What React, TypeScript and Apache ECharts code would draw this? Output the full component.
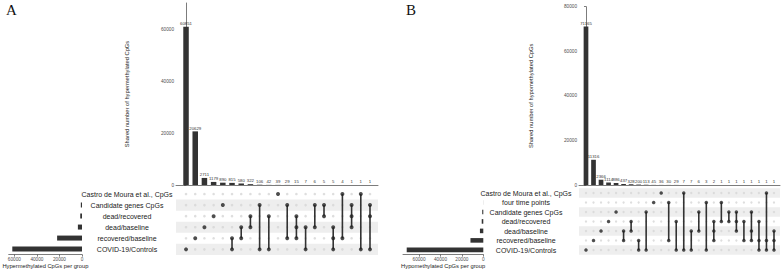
import React, { useEffect, useRef } from 'react';
import * as echarts from 'echarts';

// ---------- Data (panel A: hypermethylated) ----------
const setsA = [
  'Castro de Moura et al., CpGs',
  'Candidate genes CpGs',
  'dead/recovered',
  'dead/baseline',
  'recovered/baseline',
  'COVID-19/Controls',
];
const countsA = [60851, 20629, 2711, 1179, 890, 815, 580, 322, 106, 42, 39, 29, 15, 7, 6, 5, 5, 4, 1, 1, 1];
const membersA = [
  [5], [4], [3], [2], [1], [4, 5], [3, 4], [2, 3], [1, 5], [2, 5], [0],
  [1, 4], [2, 3, 4], [3, 5], [1, 3], [1, 2], [3, 4, 5], [0, 4], [1, 2, 3], [0, 5], [1, 2, 5],
];
const upperTicksA = [0, 20000, 40000, 60000];
const sizeTicksA = [0, 20000, 40000, 60000];

// ---------- Data (panel B: hypomethylated) ----------
const setsB = [
  'Castro de Moura et al., CpGs',
  'four time points',
  'Candidate genes CpGs',
  'dead/recovered',
  'dead/baseline',
  'recovered/baseline',
  'COVID-19/Controls',
];
const countsB = [71165, 11316, 2366, 1114, 886, 437, 328, 200, 113, 45, 36, 30, 29, 7, 7, 6, 3, 2, 1, 1, 1, 1, 1, 1, 1, 1];
const membersB = [
  [6], [5], [4], [3], [2], [4, 5], [3, 4], [5, 6], [2, 6], [1], [0], [1, 5], [3, 6],
  [0, 6], [4, 6], [2, 4], [1, 6], [3, 4, 5], [1, 3], [2, 3], [2, 3, 4], [3, 5], [2, 4, 5],
  [3, 5, 6], [0, 5, 6], [4, 5, 6],
];
const upperTicksB = [0, 20000, 40000, 60000, 80000];
const sizeTicksB = [0, 20000, 40000, 60000];

const FONT = '"Liberation Sans", Arial, Helvetica, sans-serif';
const DARK = '#333333';
const AXIS = '#444444';

type Panel = {
  sets: string[];
  counts: number[];
  members: number[][];
  upperTicks: number[];
  sizeTicks: number[];
  upperMax: number;
  sizeMax: number;
  upperTitle: string;
  sizeTitle: string;
  axisX: number;
  plotW: number;
  upperTop: number;
  matTop: number;
  matH: number;
  sizeLeft: number;
  sizeW: number;
  xMin: number;
  xMax: number;
  barW: number;
  setBarW: number;
  dot: number;
  greyDot: number;
  labelMargin: number;
  yNameGap: number;
};

const panels: Panel[] = [
  {
    sets: setsA, counts: countsA, members: membersA,
    upperTicks: upperTicksA, sizeTicks: sizeTicksA,
    upperMax: 70000, sizeMax: 65000,
    upperTitle: 'Shared number of hypermethylated CpGs',
    sizeTitle: 'Hypermethylated CpGs per group',
    axisX: 176, plotW: 202, upperTop: 3, matTop: 188.5, matH: 66.4,
    sizeLeft: 3, sizeW: 79, xMin: -1.09, xMax: 20.87,
    barW: 5.5, setBarW: 5, dot: 4, greyDot: 2.6, labelMargin: 49, yNameGap: 46,
  },
  {
    sets: setsB, counts: countsB, members: membersB,
    upperTicks: upperTicksB, sizeTicks: sizeTicksB,
    upperMax: 80000, sizeMax: 75000,
    upperTitle: 'Shared number of hypomethylated CpGs',
    sizeTitle: 'Hypomethylated CpGs per group',
    axisX: 579, plotW: 201, upperTop: 6.7, matTop: 188.25, matH: 66.5,
    sizeLeft: 403, sizeW: 80.3, xMin: -0.93, xMax: 25.8,
    barW: 4.7, setBarW: 4.6, dot: 3.5, greyDot: 2.3, labelMargin: 53, yNameGap: 45,
  },
];

const BASE_Y = 185;
const plain = (v: number) => String(v);

function buildOption() {
  const grid: any[] = [];
  const xAxis: any[] = [];
  const yAxis: any[] = [];
  const series: any[] = [];

  panels.forEach((p, pi) => {
    const g0 = pi * 3;
    const n = p.sets.length;
    const axisRows = [...p.sets].reverse();
    const rowOf = (s: number) => n - 1 - s;
    const sizes = p.sets.map((_, s) =>
      p.counts.reduce((acc, c, i) => (p.members[i].includes(s) ? acc + c : acc), 0)
    );

    grid.push(
      { left: p.axisX, top: p.upperTop, width: p.plotW, height: BASE_Y - p.upperTop },
      { left: p.axisX, top: p.matTop, width: p.plotW, height: p.matH },
      { left: p.sizeLeft, top: p.matTop, width: p.sizeW, height: p.matH }
    );

    // upper intersection bars
    xAxis.push({
      gridIndex: g0, type: 'value', min: p.xMin, max: p.xMax,
      axisLine: { show: true, onZero: false, lineStyle: { color: AXIS, width: 0.7 } },
      axisTick: { show: false }, axisLabel: { show: false }, splitLine: { show: false },
    });
    yAxis.push({
      gridIndex: g0, type: 'value', min: 0, max: p.upperMax,
      axisLine: { show: true, lineStyle: { color: AXIS, width: 0.7 } },
      axisTick: { show: true, length: 2, lineStyle: { color: AXIS, width: 0.7 }, customValues: p.upperTicks },
      axisLabel: { fontSize: 4.7, color: '#4d4d4d', margin: 2, fontFamily: FONT, customValues: p.upperTicks, formatter: plain },
      splitLine: { show: false },
      name: p.upperTitle, nameLocation: 'middle', nameGap: p.yNameGap,
      nameTextStyle: { fontSize: 5.75, color: '#222', fontFamily: FONT },
    });

    // matrix
    xAxis.push({ gridIndex: g0 + 1, type: 'value', min: p.xMin, max: p.xMax, show: false });
    yAxis.push({
      gridIndex: g0 + 1, type: 'category', data: axisRows,
      axisLine: { show: false }, axisTick: { show: false },
      axisLabel: { fontSize: 7, color: '#222', fontFamily: FONT, align: 'center', margin: p.labelMargin },
      splitLine: { show: false },
      splitArea: { show: true, areaStyle: { color: ['#eeeeee', 'rgba(255,255,255,0)'] } },
    });

    // set sizes
    xAxis.push({
      gridIndex: g0 + 2, type: 'value', inverse: true, min: 0, max: p.sizeMax,
      axisLine: { show: true, onZero: false, lineStyle: { color: AXIS, width: 0.7 } },
      axisTick: { show: true, length: 2, lineStyle: { color: AXIS, width: 0.7 }, customValues: p.sizeTicks },
      axisLabel: { fontSize: 4.7, color: '#4d4d4d', margin: 2.5, fontFamily: FONT, customValues: p.sizeTicks, formatter: plain },
      splitLine: { show: false },
      name: p.sizeTitle, nameLocation: 'middle', nameGap: 8,
      nameTextStyle: { fontSize: 5.75, color: '#222', fontFamily: FONT },
    });
    yAxis.push({ gridIndex: g0 + 2, type: 'category', data: axisRows, show: false });

    series.push({
      type: 'bar', xAxisIndex: g0, yAxisIndex: g0,
      data: p.counts.map((v, i) => [i, v]),
      barWidth: p.barW,
      itemStyle: { color: DARK },
      label: { show: true, position: 'top', distance: 1.2, fontSize: 4.3, color: '#333', fontFamily: FONT, formatter: (d: any) => String(d.value[1]) },
    });

    const grey: number[][] = [];
    const dark: number[][] = [];
    const segs: number[][] = [];
    p.members.forEach((m, i) => {
      for (let s = 0; s < n; s++) {
        if (m.includes(s)) dark.push([i, rowOf(s)]);
        else grey.push([i, rowOf(s)]);
      }
      if (m.length > 1) {
        const rows = m.map(rowOf);
        segs.push([i, Math.min(...rows), Math.max(...rows)]);
      }
    });

    series.push({
      type: 'scatter', xAxisIndex: g0 + 1, yAxisIndex: g0 + 1, data: grey,
      symbolSize: p.greyDot, itemStyle: { color: '#d6d6d6' }, z: 2, silent: true,
    });
    series.push({
      type: 'custom', xAxisIndex: g0 + 1, yAxisIndex: g0 + 1, data: segs, z: 3,
      encode: { x: 0, y: [1, 2] },
      renderItem: (params: any, api: any) => {
        const a = api.coord([api.value(0), api.value(1)]);
        const b = api.coord([api.value(0), api.value(2)]);
        return {
          type: 'line',
          shape: { x1: a[0], y1: a[1], x2: b[0], y2: b[1] },
          style: { stroke: DARK, lineWidth: 1.6 },
        };
      },
    });
    series.push({
      type: 'scatter', xAxisIndex: g0 + 1, yAxisIndex: g0 + 1, data: dark,
      symbolSize: p.dot, itemStyle: { color: '#222' }, z: 4,
    });

    series.push({
      type: 'bar', xAxisIndex: g0 + 2, yAxisIndex: g0 + 2,
      data: axisRows.map((_, r) => sizes[n - 1 - r]),
      barWidth: p.setBarW, itemStyle: { color: DARK },
    });
  });

  return {
    animation: false,
    backgroundColor: '#ffffff',
    textStyle: { fontFamily: FONT },
    grid,
    xAxis,
    yAxis,
    series,
    graphic: [
      { type: 'text', left: 6, top: 2, style: { text: 'A', font: '15px "Liberation Serif", "DejaVu Serif", serif', fill: '#111' } },
      { type: 'text', left: 406, top: 2, style: { text: 'B', font: '15px "Liberation Serif", "DejaVu Serif", serif', fill: '#111' } },
    ],
  };
}

export default function App() {
  const ref = useRef<HTMLDivElement>(null);
  useEffect(() => {
    if (!ref.current) return;
    const chart = echarts.init(ref.current, undefined, { renderer: 'svg' });
    chart.setOption(buildOption() as any);
    return () => chart.dispose();
  }, []);
  return (
    <div
      ref={ref}
      style={{ position: 'fixed', left: 0, top: 0, width: 784, height: 270, background: '#fff' }}
    />
  );
}
